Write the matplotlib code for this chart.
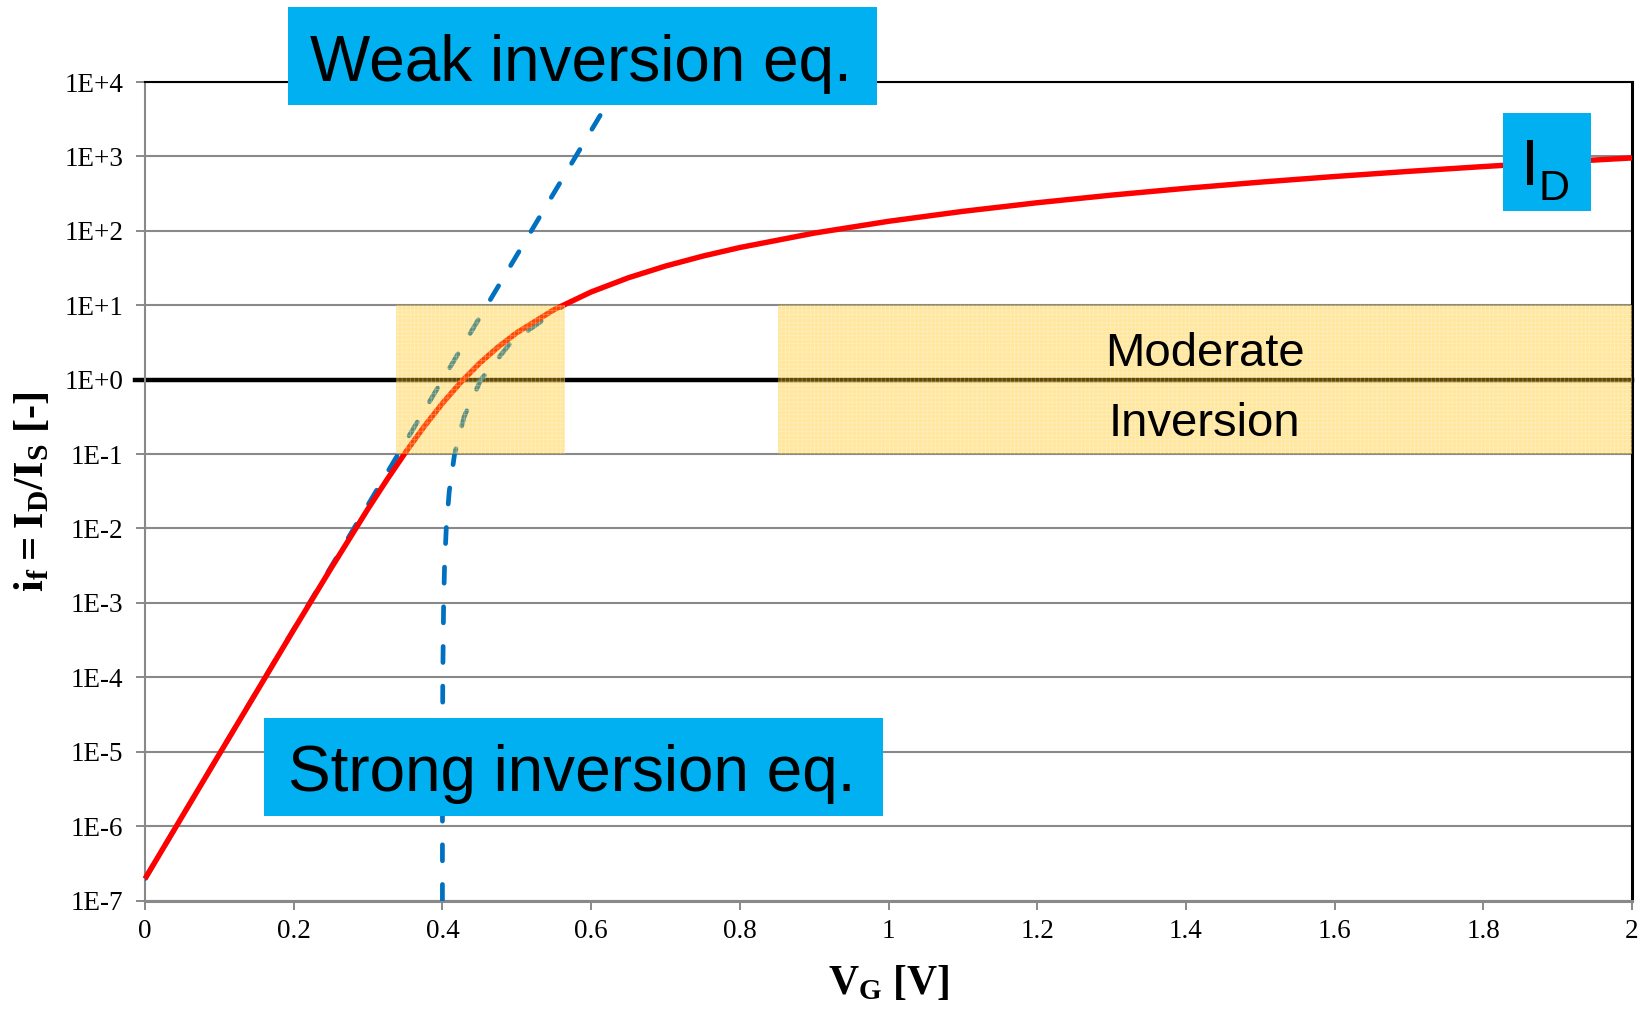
import numpy as np
import matplotlib.pyplot as plt
from matplotlib.patches import Rectangle

plt.rcParams['mathtext.fontset'] = 'custom'
plt.rcParams['mathtext.rm'] = 'Liberation Serif'
plt.rcParams['mathtext.bf'] = 'Liberation Serif:bold'
plt.rcParams['hatch.linewidth'] = 0.5

# drain current i_f = I_D/I_S versus gate voltage
vg_id = [0, 0.1, 0.2, 0.25, 0.3, 0.325, 0.35, 0.375, 0.4, 0.425, 0.45, 0.475,
         0.5, 0.55, 0.6, 0.65, 0.7, 0.75, 0.8, 0.9, 1.0, 1.1, 1.2, 1.3, 1.4,
         1.5, 1.6, 1.7, 1.8, 1.9, 2.0]
if_id = [1.96e-7, 9.29e-6, 4.34e-4, 2.89e-3, 1.84e-2, 4.46e-2, 0.104, 0.231,
         0.480, 0.928, 1.66, 2.75, 4.27, 8.70, 15.07, 23.37, 33.58, 45.67,
         59.64, 93.17, 134.2, 182.6, 238.5, 301.9, 372.7, 451.0, 536.7,
         629.8, 730.5, 838.5, 954.1]

# weak inversion asymptote (straight on log scale)
vg_weak = [0, 0.639]
if_weak = [1.96e-7, 1.0e4]

# strong inversion asymptote
vg_strong = [0.400016, 0.400052, 0.400164, 0.400518, 0.401638, 0.402913,
             0.40518, 0.40921, 0.41638, 0.42913, 0.4518, 0.4921, 0.5638]
if_strong = [1e-7, 1e-6, 1e-5, 1e-4, 1e-3, 3.16e-3, 1e-2, 3.16e-2, 0.1,
             0.316, 1.0, 3.16, 10.0]

# moderate inversion bands (V_G ranges), between i_f = 0.1 and 10
mod_ranges = [(0.337, 0.565), (0.851, 2.0)]
mod_lo, mod_hi = 0.1, 10.0

xticks = [0, 0.2, 0.4, 0.6, 0.8, 1, 1.2, 1.4, 1.6, 1.8, 2]
xtick_labels = ['0', '0.2', '0.4', '0.6', '0.8', '1', '1.2', '1.4', '1.6', '1.8', '2']
yticks = [1e-7, 1e-6, 1e-5, 1e-4, 1e-3, 1e-2, 1e-1, 1e0, 1e1, 1e2, 1e3, 1e4]
ytick_labels = ['1E-7', '1E-6', '1E-5', '1E-4', '1E-3', '1E-2', '1E-1',
                '1E+0', '1E+1', '1E+2', '1E+3', '1E+4']

W, H = 1641, 1009
fig = plt.figure(figsize=(W / 100, H / 100), dpi=100)


def fx(px):
    return px / W


def fy(py):
    return 1 - py / H


ax = fig.add_axes([fx(145), fy(900.5), fx(1632) - fx(145), fy(82) - fy(900.5)])
ax.set_yscale('log')
ax.set_xlim(0, 2)
ax.set_ylim(1e-7, 1e4)

grey = '#898989'
ax.yaxis.grid(True, color=grey, lw=1.5, zorder=0.5)
ax.set_axisbelow(True)
ax.minorticks_off()
ax.set_xticks(xticks)
ax.set_xticklabels(xtick_labels)
ax.set_yticks(yticks)
ax.set_yticklabels(ytick_labels)
ax.tick_params(direction='out', length=6.5, width=1.4, color=grey,
               labelsize=19.5, labelcolor='black')
ax.tick_params(axis='y', pad=9)
ax.tick_params(axis='x', pad=7)
for lab in ax.get_xticklabels() + ax.get_yticklabels():
    lab.set_family('Liberation Serif')

ax.spines['left'].set_color(grey)
ax.spines['left'].set_linewidth(1.5)
ax.spines['bottom'].set_color(grey)
ax.spines['bottom'].set_linewidth(2.2)
ax.spines['top'].set_color('black')
ax.spines['top'].set_linewidth(1.5)
ax.spines['right'].set_color('black')
ax.spines['right'].set_linewidth(2.2)

# i_f = 1 reference line
ax.axhline(1, xmin=-0.007, color='black', lw=3.2, zorder=2, clip_on=False)

ax.plot(vg_weak, if_weak, color='#0070C0', lw=3.4, dashes=(3.4, 5.0),
        dash_capstyle='round', zorder=3)
ax.plot(vg_strong, if_strong, color='#0070C0', lw=3.4, dashes=(3.4, 5.0),
        dash_capstyle='round', zorder=3)
ax.plot(vg_id, if_id, color='#FF0000', lw=3.9, solid_capstyle='butt',
        zorder=4, clip_on=False)

for x0, x1 in mod_ranges:
    ax.add_patch(Rectangle((x0, mod_lo), x1 - x0, mod_hi - mod_lo,
                           facecolor='#FFC000', edgecolor='none', alpha=0.38,
                           zorder=5))
    ax.add_patch(Rectangle((x0, mod_lo), x1 - x0, mod_hi - mod_lo,
                           fill=False, hatch='++++', edgecolor=(1, 1, 1, 0.35),
                           lw=0, zorder=5))

ax.text(1.4255, 1.53, 'Moderate', family='Liberation Sans', fontsize=34,
        ha='center', va='baseline', zorder=6)
ax.text(1.4255, 0.1725, 'Inversion', family='Liberation Sans', fontsize=34,
        ha='center', va='baseline', zorder=6)

ax.set_xlabel(r'$\mathbf{V_G}$ [V]', family='Liberation Serif',
              fontweight='bold', fontsize=30, va='center')
ax.xaxis.set_label_coords(0.5, (900.5 - 983) / 818.5)
ax.set_ylabel(r'$\mathbf{i_f = I_D/I_S}$ [-]', family='Liberation Serif',
              fontweight='bold', fontsize=30.5, va='center')
ax.yaxis.set_label_coords((33 - 145) / 1487, 0.5)

# annotation boxes
cyan = '#00B0F0'
fig.add_artist(Rectangle((fx(288), fy(105)), fx(877) - fx(288), fy(7) - fy(105),
                         transform=fig.transFigure, facecolor=cyan,
                         edgecolor='none', zorder=10))
fig.text(fx(581), fy(80.5), 'Weak inversion eq.', family='Liberation Sans',
         fontsize=46, ha='center', va='baseline', zorder=11)

fig.add_artist(Rectangle((fx(264), fy(815.5)), fx(883) - fx(264), fy(718) - fy(815.5),
                         transform=fig.transFigure, facecolor=cyan,
                         edgecolor='none', zorder=10))
fig.text(fx(572), fy(790.5), 'Strong inversion eq.', family='Liberation Sans',
         fontsize=46, ha='center', va='baseline', zorder=11)

fig.add_artist(Rectangle((fx(1503), fy(210.5)), fx(1591) - fx(1503), fy(113) - fy(210.5),
                         transform=fig.transFigure, facecolor=cyan,
                         edgecolor='none', zorder=10))
fig.text(fx(1521), fy(185), 'I', family='Liberation Sans', fontsize=47,
         ha='left', va='baseline', zorder=11)
fig.text(fx(1538), fy(200.5), 'D', family='Liberation Sans', fontsize=31,
         ha='left', va='baseline', zorder=11)

fig.savefig('out.png', dpi=100)
